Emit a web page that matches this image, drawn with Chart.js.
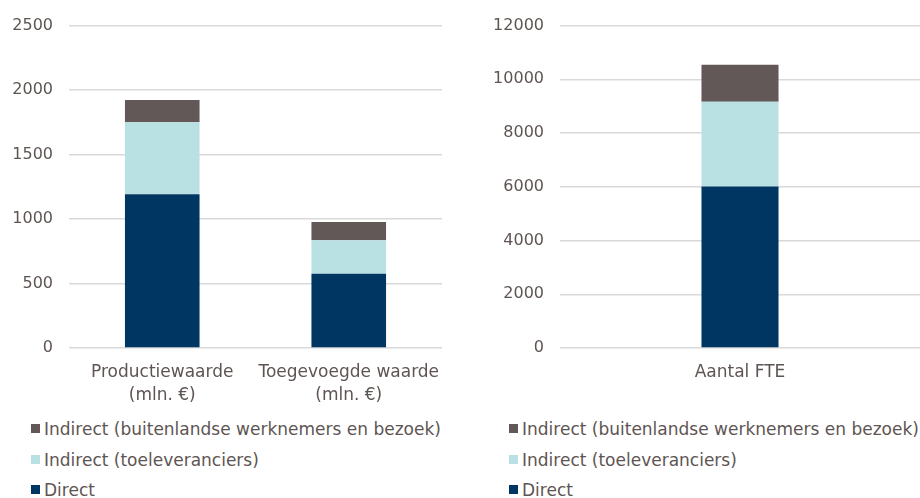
<!DOCTYPE html>
<html>
<head>
<meta charset="utf-8">
<script src="https://cdn.jsdelivr.net/npm/chart.js@4"></script>
<style>
  body { margin: 0; background: #fff; }
  #wrap { position: relative; width: 920px; height: 498px; overflow: hidden; font-family: 'DejaVu Sans', Verdana, sans-serif; }
  .box { position: absolute; top: 0; width: 460px; height: 410px; }
  .legend { position: absolute; top: 414px; font-size: 17px; color: #5e5553; }
  .legend div { position: relative; height: 30.5px; line-height: 30px; padding-left: 13px; white-space: nowrap; }
  .legend span { position: absolute; left: 0; top: 10px; width: 9px; height: 9px; }
</style>
</head>
<body>
<div id="wrap">
  <div class="box" style="left:0"><canvas id="leftChart"></canvas></div>
  <div class="box" style="left:460px"><canvas id="rightChart"></canvas></div>
  <div class="legend" id="legendLeft" style="left:31px"></div>
  <div class="legend" id="legendRight" style="left:509px"></div>
</div>
<script>
// Data
const seriesLabels = ['Direct', 'Indirect (toeleveranciers)', 'Indirect (buitenlandse werknemers en bezoek)'];
const seriesColors = ['#003662', '#b9e0e3', '#625857'];

const categoriesLeft = [['Productiewaarde', '(mln. €)'], ['Toegevoegde waarde', '(mln. €)']];
const directLeft = [1193, 575];
const toeleverLeft = [557, 260];
const buitenLeft = [173, 142];
const leftMax = 2500, leftStep = 500;

const categoriesRight = ['Aantal FTE'];
const directRight = [6010];
const toeleverRight = [3160];
const buitenRight = [1370];
const rightMax = 12000, rightStep = 2000;

const textColor = '#5e5553';

// Config gráficos
const createChart = (ctx, labels, series, max, step, axisWidth, barPct, padRight) => new Chart(ctx, {
  type: 'bar',
  data: {
    labels: labels,
    datasets: series.map((values, i) => ({
      label: seriesLabels[i],
      data: values,
      backgroundColor: seriesColors[i],
      borderWidth: 0,
      barPercentage: barPct,
      categoryPercentage: 1
    }))
  },
  options: {
    responsive: false,
    animation: false,
    layout: { padding: { top: 25, right: padRight, left: 0, bottom: 0 } },
    plugins: { legend: { display: false }, tooltip: { enabled: false } },
    scales: {
      x: {
        stacked: true,
        grid: { display: false },
        border: { display: false },
        ticks: { color: textColor, font: { family: 'DejaVu Sans', size: 17, lineHeight: 1.3 }, padding: 6, maxRotation: 0 },
        afterFit: (scale) => { scale.height = 62; }
      },
      y: {
        stacked: true,
        min: 0,
        max: max,
        border: { display: false },
        grid: { color: '#d9d9d9', lineWidth: 1.5, drawTicks: false },
        ticks: { stepSize: step, color: textColor, font: { family: 'DejaVu Sans', size: 16 }, padding: 16, callback: (v) => String(v) },
        afterFit: (scale) => { scale.width = axisWidth; }
      }
    }
  }
});

const leftCanvas = document.getElementById('leftChart');
leftCanvas.width = 460; leftCanvas.height = 410;
const rightCanvas = document.getElementById('rightChart');
rightCanvas.width = 460; rightCanvas.height = 410;

createChart(leftCanvas, categoriesLeft, [directLeft, toeleverLeft, buitenLeft], leftMax, leftStep, 69, 0.4, 18);
createChart(rightCanvas, categoriesRight, [directRight, toeleverRight, buitenRight], rightMax, rightStep, 100, 0.214, 0);

// Legenda (orden invertido)
['legendLeft', 'legendRight'].forEach(id => {
  const el = document.getElementById(id);
  for (let i = seriesLabels.length - 1; i >= 0; i--) {
    const row = document.createElement('div');
    const sw = document.createElement('span');
    sw.style.background = seriesColors[i];
    row.appendChild(sw);
    row.appendChild(document.createTextNode(seriesLabels[i]));
    el.appendChild(row);
  }
});
</script>
</body>
</html>
